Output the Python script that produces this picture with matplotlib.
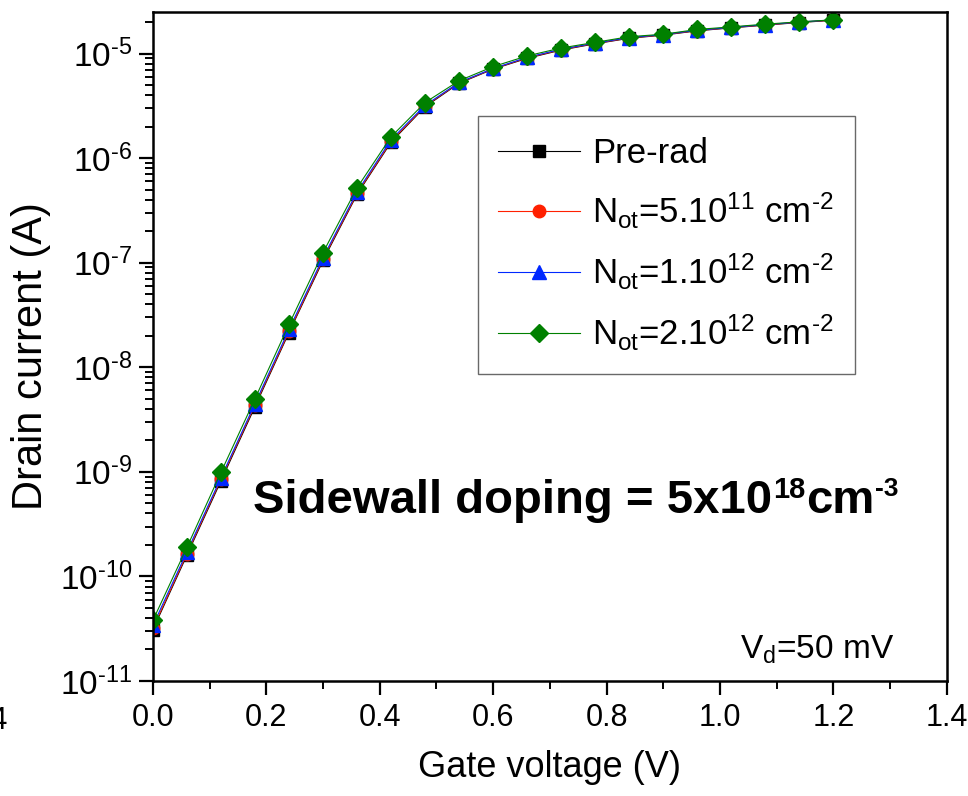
import numpy as np
import matplotlib
matplotlib.use('Agg')
from matplotlib import pyplot as plt
from matplotlib.ticker import LogLocator, MultipleLocator, FuncFormatter, NullFormatter

plt.rcParams['font.family'] = ['Liberation Sans', 'DejaVu Sans']
plt.rcParams['mathtext.fontset'] = 'custom'
plt.rcParams['mathtext.rm'] = 'Liberation Sans'
plt.rcParams['mathtext.it'] = 'Liberation Sans:italic'
plt.rcParams['mathtext.bf'] = 'Liberation Sans:bold'

# gate voltage (V)
vg = [0.00, 0.06, 0.12, 0.18, 0.24, 0.30, 0.36, 0.42, 0.48, 0.54, 0.60,
      0.66, 0.72, 0.78, 0.84, 0.90, 0.96, 1.02, 1.08, 1.14, 1.20]

# drain current (A)
pre_rad = [3.1e-11, 1.6e-10, 8.2e-10, 4.2e-9, 2.15e-8, 1.05e-7, 4.5e-7, 1.42e-6,
           3.1e-6, 5.2e-6, 7.1e-6, 9.0e-6, 1.08e-5, 1.24e-5, 1.40e-5, 1.50e-5,
           1.65e-5, 1.76e-5, 1.87e-5, 1.98e-5, 2.08e-5]
not_5e11 = [3.2e-11, 1.65e-10, 8.5e-10, 4.35e-9, 2.2e-8, 1.08e-7, 4.6e-7, 1.45e-6,
            3.15e-6, 5.25e-6, 7.15e-6, 9.1e-6, 1.09e-5, 1.25e-5, 1.41e-5, 1.51e-5,
            1.66e-5, 1.77e-5, 1.88e-5, 1.99e-5, 2.09e-5]
not_1e12 = [3.4e-11, 1.72e-10, 8.8e-10, 4.5e-9, 2.3e-8, 1.12e-7, 4.75e-7, 1.5e-6,
            3.2e-6, 5.3e-6, 7.2e-6, 9.2e-6, 1.1e-5, 1.26e-5, 1.42e-5, 1.52e-5,
            1.67e-5, 1.78e-5, 1.89e-5, 2.0e-5, 2.1e-5]
not_2e12 = [3.8e-11, 1.9e-10, 9.9e-10, 5.0e-9, 2.57e-8, 1.25e-7, 5.2e-7, 1.6e-6,
            3.4e-6, 5.5e-6, 7.5e-6, 9.5e-6, 1.13e-5, 1.28e-5, 1.45e-5, 1.53e-5,
            1.70e-5, 1.80e-5, 1.91e-5, 2.01e-5, 2.10e-5]

labels = ['Pre-rad',
          r'N$_{\mathregular{ot}}$=5.10$^{\mathregular{11}}$ cm$^{\text{-2}}$',
          r'N$_{\mathregular{ot}}$=1.10$^{\mathregular{12}}$ cm$^{\text{-2}}$',
          r'N$_{\mathregular{ot}}$=2.10$^{\mathregular{12}}$ cm$^{\text{-2}}$']

fig = plt.figure(figsize=(9.68, 7.96), dpi=100)
ax = fig.add_axes([0.158, 0.1445, 0.82, 0.8405])

ax.plot(vg, pre_rad, color='black', lw=0.8, marker='s', ms=8, label=labels[0])
ax.plot(vg, not_5e11, color='#ff2000', lw=0.8, marker='o', ms=9, label=labels[1])
ax.plot(vg, not_1e12, color='#0028ff', lw=0.8, marker='^', ms=10, label=labels[2])
ax.plot(vg, not_2e12, color='#008000', lw=0.8, marker='D', ms=9, label=labels[3])

ax.set_yscale('log')
ax.set_xlim(0, 1.4)
ax.set_ylim(1e-11, 2.5e-5)

ax.xaxis.set_major_locator(MultipleLocator(0.2))
ax.xaxis.set_minor_locator(MultipleLocator(0.1))
ax.xaxis.set_major_formatter(FuncFormatter(lambda v, p: '%.1f' % v))
ax.yaxis.set_major_locator(LogLocator(base=10, numticks=20))
ax.yaxis.set_minor_locator(LogLocator(base=10, subs=np.arange(2, 10), numticks=20))
ax.yaxis.set_minor_formatter(NullFormatter())
ax.yaxis.set_major_formatter(FuncFormatter(
    lambda v, p: r'$\mathregular{10}^{\text{%d}}$' % round(np.log10(v))))

ax.tick_params(which='major', direction='out', length=10, width=1.6, pad=6)
ax.tick_params(axis='x', which='major', labelsize=22)
ax.tick_params(axis='y', which='major', labelsize=24, pad=5)
ax.tick_params(which='minor', direction='out', length=6, width=1.4)
for sp in ax.spines.values():
    sp.set_linewidth(1.8)

ax.set_xlabel('Gate voltage (V)', fontsize=26, labelpad=12)
ax.set_ylabel('Drain current (A)', fontsize=30)
ax.yaxis.set_label_coords(-0.128, 0.485)

leg = ax.legend(loc='upper left', bbox_to_anchor=(0.409, 0.8445), borderaxespad=0,
                fontsize=25, frameon=True, fancybox=False, edgecolor='#444444',
                handlelength=2.35, handletextpad=0.35, borderpad=0.6,
                labelspacing=0.6)
leg.get_frame().set_linewidth(1.0)

# bold annotation, pieced together so the exponents keep a plain hyphen
y0 = 0.251
t1 = ax.text(0.126, y0, 'Sidewall doping = 5x10', transform=ax.transAxes,
             fontsize=34, fontweight='bold', va='baseline')
t2 = ax.annotate('18', xy=(1, y0), xycoords=(t1, 'axes fraction'), xytext=(0.5, 10.5),
                 textcoords='offset points', fontsize=21, fontweight='bold', va='baseline')
t3 = ax.annotate('cm', xy=(1, y0), xycoords=(t2, 'axes fraction'), xytext=(0.5, 0),
                 textcoords='offset points', fontsize=34, fontweight='bold', va='baseline')
ax.annotate('-3', xy=(1, y0), xycoords=(t3, 'axes fraction'), xytext=(0.5, 12),
            textcoords='offset points', fontsize=19, fontweight='bold', va='baseline')

ax.text(0.9345, 0.034, r'V$_{\mathregular{d}}$=50 mV', transform=ax.transAxes,
        fontsize=24, ha='right', va='baseline')

# clipped leftover label at the left edge
fig.text(8 / 968, 1 - 729 / 796, '1.4', fontsize=22, ha='right', va='baseline')

fig.savefig('out.png', dpi=100)
